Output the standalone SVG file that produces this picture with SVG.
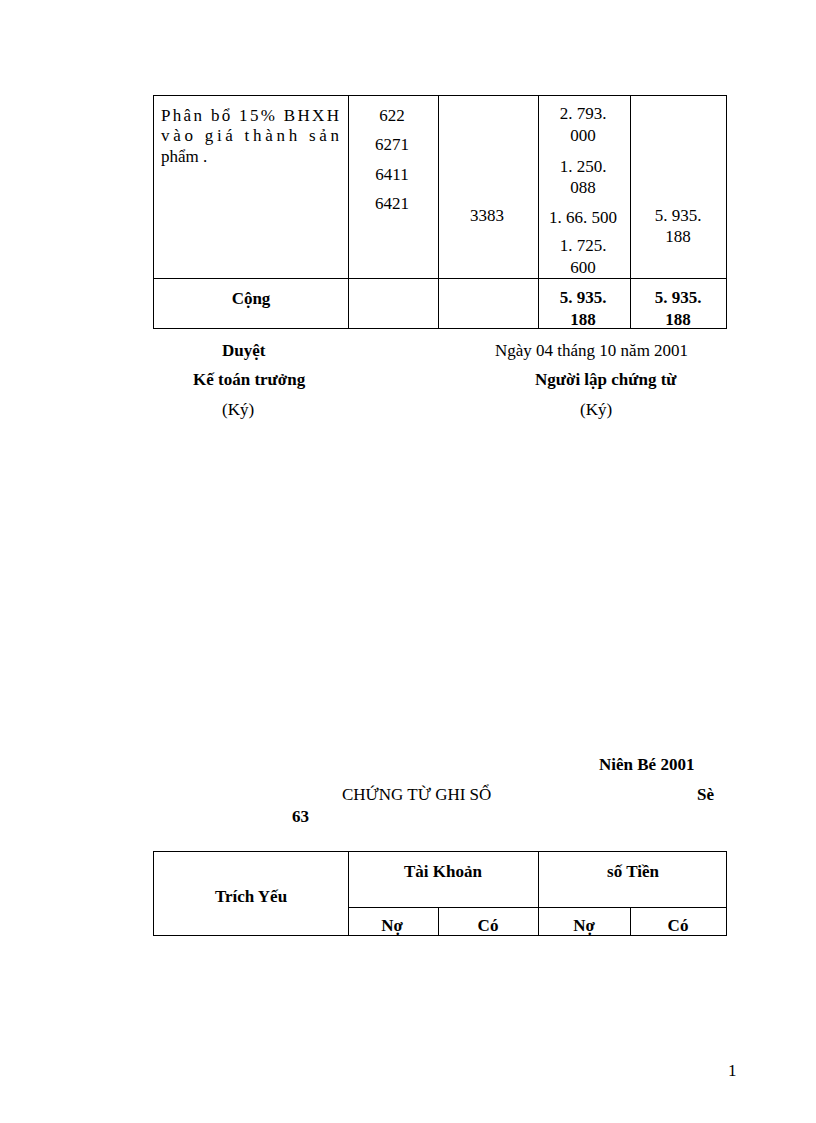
<svg xmlns="http://www.w3.org/2000/svg" width="816" height="1123" viewBox="0 0 816 1123">
<style>
text{font-family:"Liberation Serif","Times New Roman",serif;font-size:17px;fill:#000}
.b{font-weight:bold}
.c{text-anchor:middle}
line,rect{stroke:#000;stroke-width:1;fill:none}
</style>
<rect x="0" y="0" width="816" height="1123" fill="#fff" stroke="none" style="fill:#fff;stroke:none"/>
<g id="table1">
<rect x="153.5" y="95.5" width="573" height="233"/>
<line x1="153.5" y1="278.5" x2="726.5" y2="278.5"/>
<line x1="348.5" y1="95.5" x2="348.5" y2="328.5"/>
<line x1="438.5" y1="95.5" x2="438.5" y2="328.5"/>
<line x1="538.5" y1="95.5" x2="538.5" y2="328.5"/>
<line x1="630.5" y1="95.5" x2="630.5" y2="328.5"/>
<text x="161" y="121" textLength="178" lengthAdjust="spacing">Phân bổ 15% BHXH</text>
<text x="161" y="141" textLength="178" lengthAdjust="spacing">vào giá thành sản</text>
<text x="161" y="162">phẩm .</text>
<text class="c" x="392" y="121">622</text>
<text class="c" x="392" y="150">6271</text>
<text class="c" x="392" y="180">6411</text>
<text class="c" x="392" y="209">6421</text>
<text class="c" x="487" y="221">3383</text>
<text class="c" x="583" y="119">2. 793.</text>
<text class="c" x="583" y="141">000</text>
<text class="c" x="583" y="172">1. 250.</text>
<text class="c" x="583" y="193">088</text>
<text class="c" x="583" y="223">1. 66. 500</text>
<text class="c" x="583" y="251">1. 725.</text>
<text class="c" x="583" y="273">600</text>
<text class="c" x="678" y="221">5. 935.</text>
<text class="c" x="678" y="242">188</text>
<text class="c b" x="251" y="304">Cộng</text>
<text class="c b" x="583" y="303">5. 935.</text>
<text class="c b" x="583" y="325">188</text>
<text class="c b" x="678" y="303">5. 935.</text>
<text class="c b" x="678" y="325">188</text>
</g>
<g id="signatures">
<text class="b" x="222" y="356">Duyệt</text>
<text x="495" y="356">Ngày 04 tháng 10 năm 2001</text>
<text class="b" x="193" y="385">Kế toán trưởng</text>
<text class="b" x="535" y="385">Người lập chứng từ</text>
<text x="222" y="415">(Ký)</text>
<text x="580" y="415">(Ký)</text>
</g>
<g id="header2">
<text class="b" x="599" y="770">Niên Bé 2001</text>
<text x="342" y="800">CHỨNG TỪ GHI SỔ</text>
<text class="b" x="697" y="800">Sè</text>
<text class="b" x="292" y="822">63</text>
</g>
<g id="table2">
<rect x="153.5" y="851.5" width="573" height="84"/>
<line x1="348.5" y1="907.5" x2="726.5" y2="907.5"/>
<line x1="348.5" y1="851.5" x2="348.5" y2="935.5"/>
<line x1="538.5" y1="851.5" x2="538.5" y2="935.5"/>
<line x1="438.5" y1="907.5" x2="438.5" y2="935.5"/>
<line x1="630.5" y1="907.5" x2="630.5" y2="935.5"/>
<text class="c b" x="251" y="902">Trích Yếu</text>
<text class="c b" x="443" y="877">Tài Khoản</text>
<text class="c b" x="633" y="877">số Tiền</text>
<text class="c b" x="392" y="931">Nợ</text>
<text class="c b" x="488" y="931">Có</text>
<text class="c b" x="584" y="931">Nợ</text>
<text class="c b" x="678" y="931">Có</text>
</g>
<text x="728" y="1076">1</text>
</svg>
